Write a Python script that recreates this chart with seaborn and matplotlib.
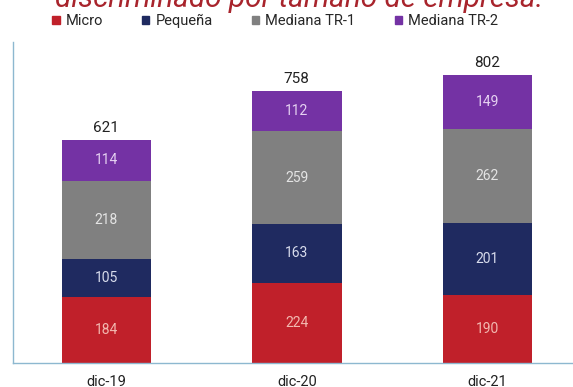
import matplotlib
matplotlib.use("Agg")
import matplotlib.pyplot as plt
import seaborn as sns
import numpy as np
import pandas as pd

periods = ["dic-19", "dic-20", "dic-21"]
series = ["Micro", "Pequeña", "Mediana TR-1", "Mediana TR-2"]
micro = [184, 224, 190]
pequena = [105, 163, 201]
mediana_tr1 = [218, 259, 262]
mediana_tr2 = [114, 112, 149]
totals = [621, 758, 802]

colors = ["#C0202A", "#1F2A60", "#808080", "#7432A4"]
label_colors = ["#F2B8B0", "#D8DCEC", "#E4E4E4", "#E6D2F2"]

sns.set_theme(style="white")
plt.rcParams["font.family"] = ["Roboto", "DejaVu Sans"]

values = [micro, pequena, mediana_tr1, mediana_tr2]
cum = np.cumsum(np.array(values), axis=0)
df = pd.DataFrame({"periodo": periods})
for name, c in zip(series, cum):
    df[name] = c

fig = plt.figure(figsize=(5.73, 3.87), dpi=100)
ax = fig.add_axes([13 / 573, 1 - 363 / 387, 1 - 13 / 573, (363 - 42) / 387])

# stacked bars: draw cumulative heights from the top layer down
for name, color in reversed(list(zip(series, colors))):
    sns.barplot(data=df, x="periodo", y=name, color=color, width=0.47,
                saturation=1, linewidth=0, ax=ax)

# segment labels centred in each block
for i in range(len(periods)):
    bottom = 0
    for vals, lc in zip(values, label_colors):
        v = vals[i]
        ax.text(i, bottom + v / 2, f"{v}", ha="center", va="center",
                fontsize=10, color=lc)
        bottom += v
    ax.text(i, totals[i] + 14, f"{totals[i]}", ha="center", va="bottom",
            fontsize=11, color="#222222")

ax.set_xlim(-0.49, 2.45)
ax.set_ylim(0, 894)
ax.set_ylabel("")
ax.set_xlabel("")
ax.set_yticks([])
ax.tick_params(axis="x", length=0, pad=9, labelsize=10.5, colors="#222222")
for s in ["top", "right"]:
    ax.spines[s].set_visible(False)
for s in ["left", "bottom"]:
    ax.spines[s].set_color("#8DB8D0")
    ax.spines[s].set_linewidth(1.0)

handles = [plt.Rectangle((0, 0), 1, 1, color=c) for c in colors]
fig.legend(handles, series, loc="center", bbox_to_anchor=(275 / 573, 1 - 21 / 387),
           ncol=4, frameon=False, fontsize=10.5, handlelength=0.5, handleheight=0.5,
           handletextpad=0.4, columnspacing=2.7, borderpad=0)

fig.text(299 / 573, 1 - 7 / 387, "discriminado por tamaño de empresa.", ha="center",
         va="baseline", fontsize=21.4, style="italic", color="#A8242C")

fig.savefig("out.png", dpi=100)
